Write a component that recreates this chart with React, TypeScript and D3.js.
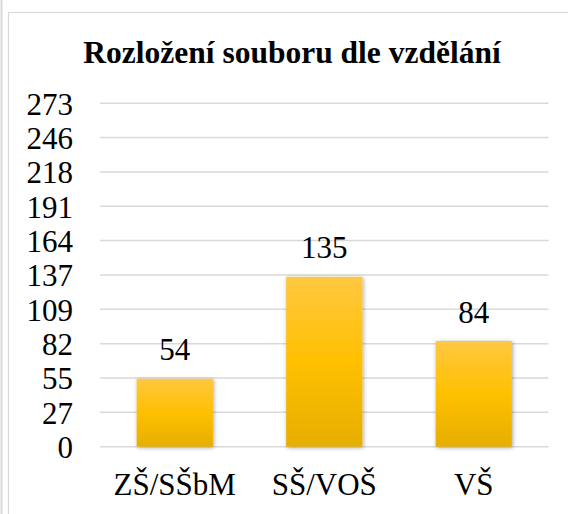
import React from "react";
import * as d3 from "d3";

const categories = ["ZŠ/SŠbM", "SŠ/VOŠ", "VŠ"];
const values = [54, 135, 84];
const tickLabels = ["0", "27", "55", "82", "109", "137", "164", "191", "218", "246", "273"];
const yMax = 273;
const title = "Rozložení souboru dle vzdělání";

const W = 568;
const H = 514;
const FONT = '"Liberation Serif", "Times New Roman", Times, "DejaVu Serif", serif';

export default function App() {
  const x = d3
    .scaleBand<string>()
    .domain(categories)
    .range([100, 548.5])
    .paddingInner(0.49)
    .paddingOuter(0.245);
  const y = d3.scaleLinear().domain([0, yMax]).range([446.7, 103.2]);
  const tickVals = tickLabels.map((_, i) => (yMax / (tickLabels.length - 1)) * i);
  const ts = { fontFamily: FONT };

  return (
    <svg
      width={W}
      height={H}
      style={{ position: "absolute", left: 0, top: 0, background: "#fff", fontFamily: FONT }}
    >
      <defs>
        <linearGradient id="barGrad" x1="0" y1="0" x2="0" y2="1">
          <stop offset="0" stopColor="#FFC841" />
          <stop offset="0.5" stopColor="#FFC000" />
          <stop offset="1" stopColor="#E6AE00" />
        </linearGradient>
        <filter id="shadow" x="-20%" y="-10%" width="140%" height="120%">
          <feGaussianBlur in="SourceAlpha" stdDeviation="2" />
          <feOffset dx="1" dy="1" result="b" />
          <feComponentTransfer>
            <feFuncA type="linear" slope="0.35" />
          </feComponentTransfer>
          <feMerge>
            <feMergeNode />
            <feMergeNode in="SourceGraphic" />
          </feMerge>
        </filter>
      </defs>
      <line x1={1.5} x2={1.5} y1={0} y2={H} stroke="#d9d9d9" strokeWidth={2} />
      <rect x={8.5} y={12.5} width={W} height={H} fill="#fff" stroke="#d9d9d9" strokeWidth={1.2} />
      <text x={292} y={62.5} textAnchor="middle" fontWeight="bold" fontSize={31.5} fill="#000" style={ts}>
        {title}
      </text>
      {tickVals.map((v, i) => (
        <g key={i}>
          <line x1={100} x2={548.5} y1={y(v)} y2={y(v)} stroke="#d9d9d9" strokeWidth={1.5} />
          <text x={73} y={y(v) + 11.3} textAnchor="end" fontSize={31} fill="#000" style={ts}>
            {tickLabels[i]}
          </text>
        </g>
      ))}
      {categories.map((c, i) => (
        <g key={c}>
          <rect
            x={x(c)!}
            y={y(values[i])}
            width={x.bandwidth()}
            height={y(0) - y(values[i])}
            fill="url(#barGrad)"
            filter="url(#shadow)"
          />
          <text
            x={x(c)! + x.bandwidth() / 2}
            y={y(values[i]) - 18.4}
            textAnchor="middle"
            fontSize={31}
            fill="#000"
            style={ts}
          >
            {values[i]}
          </text>
          <text x={x(c)! + x.bandwidth() / 2} y={495} textAnchor="middle" fontSize={31} fill="#000" style={ts}>
            {c}
          </text>
        </g>
      ))}
    </svg>
  );
}
